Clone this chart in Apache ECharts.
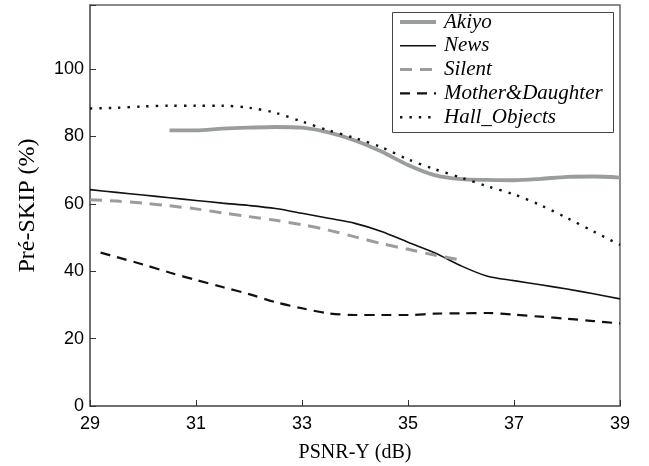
<!DOCTYPE html>
<html>
<head>
<meta charset="utf-8">
<script src="https://cdn.jsdelivr.net/npm/echarts@6/dist/echarts.min.js"></script>
<style>
  html, body { margin: 0; padding: 0; background: #fff; }
  #chart { width: 649px; height: 466px; }
</style>
</head>
<body>
<div id="chart"></div>
<script>
// Pre-SKIP ratio versus luma PSNR for five test sequences
const seriesNames = ['Akiyo', 'News', 'Silent', 'Mother&Daughter', 'Hall_Objects'];

const akiyoX = [30.5, 31.0, 31.5, 32.0, 32.5, 33.0, 33.5, 34.0, 34.5, 35.0, 35.5, 36.0, 36.5, 37.0, 37.5, 38.0, 38.5, 39.0];
const akiyoY = [81.8, 81.8, 82.3, 82.6, 82.8, 82.6, 81.2, 78.8, 75.5, 71.5, 68.5, 67.3, 67.1, 67.0, 67.4, 68.0, 68.1, 67.8];

const newsX = [29.0, 29.5, 30.0, 30.5, 31.0, 31.5, 32.0, 32.5, 33.0, 33.5, 34.0, 34.5, 35.0, 35.5, 36.0, 36.5, 37.0, 37.5, 38.0, 38.5, 39.0];
const newsY = [64.2, 63.4, 62.6, 61.8, 61.0, 60.2, 59.5, 58.6, 57.2, 55.7, 54.2, 51.8, 48.6, 45.5, 41.6, 38.5, 37.2, 36.0, 34.7, 33.3, 31.8];

const silentX = [29.0, 29.5, 30.0, 30.5, 31.0, 31.5, 32.0, 32.5, 33.0, 33.5, 34.0, 34.5, 35.0, 35.5, 36.0];
const silentY = [61.2, 60.8, 60.2, 59.4, 58.5, 57.3, 56.2, 55.1, 53.8, 52.2, 50.2, 48.2, 46.5, 44.8, 43.3];

const motherX = [29.2, 29.5, 30.0, 30.5, 31.0, 31.5, 32.0, 32.5, 33.0, 33.5, 34.0, 34.5, 35.0, 35.5, 36.0, 36.5, 37.0, 37.5, 38.0, 38.5, 39.0];
const motherY = [45.5, 44.2, 42.0, 39.6, 37.4, 35.3, 33.2, 30.8, 29.0, 27.5, 27.0, 27.0, 27.0, 27.4, 27.5, 27.6, 27.1, 26.5, 25.9, 25.2, 24.5];

const hallX = [29.0, 29.5, 30.0, 30.5, 31.0, 31.5, 32.0, 32.5, 33.0, 33.5, 34.0, 34.5, 35.0, 35.5, 36.0, 36.5, 37.0, 37.5, 38.0, 38.5, 39.0];
const hallY = [88.3, 88.5, 88.9, 89.1, 89.1, 89.1, 88.5, 87.0, 84.4, 81.8, 79.5, 76.8, 73.2, 70.3, 67.8, 65.2, 62.8, 59.6, 55.8, 51.8, 47.8];

const xTicks = [29, 31, 33, 35, 37, 39];
const yTicks = [0, 20, 40, 60, 80, 100];

const pairs = (xs, ys) => xs.map((x, i) => [x, ys[i]]);

const frameColor = '#666';
const serif = '"Liberation Serif", "Times New Roman", serif';
const sans = '"Liberation Sans", Arial, sans-serif';

const styles = [
  { color: '#9a9d9d', width: 3.8, type: 'solid' },
  { color: '#111', width: 1.6, type: 'solid' },
  { color: '#9a9d9d', width: 3, type: [12, 8] },
  { color: '#111', width: 2.2, type: [10, 7] },
  { color: '#111', width: 2.4, type: [2.4, 7] }
];
const dataSets = [
  pairs(akiyoX, akiyoY),
  pairs(newsX, newsY),
  pairs(silentX, silentY),
  pairs(motherX, motherY),
  pairs(hallX, hallY)
];

// Boxed key in the upper-right corner: a line sample and an italic name per row
const keyBox = { x: 392.5, y: 12.5, w: 221, h: 120 };
const keyRow0 = 22, keyRowStep = 23.8;
const keyElements = [{
  type: 'rect',
  shape: { x: keyBox.x, y: keyBox.y, width: keyBox.w, height: keyBox.h },
  style: { fill: '#fff', stroke: '#444', lineWidth: 1 },
  z: 50
}];
seriesNames.forEach((name, i) => {
  const y = keyRow0 + i * keyRowStep;
  keyElements.push({
    type: 'line',
    shape: { x1: 400, y1: y, x2: 436, y2: y },
    style: {
      stroke: styles[i].color,
      lineWidth: styles[i].width,
      lineDash: Array.isArray(styles[i].type) ? styles[i].type : null
    },
    z: 51
  });
  keyElements.push({
    type: 'text',
    x: 444, y: y,
    style: {
      text: name, fill: '#000',
      font: 'italic 21px ' + serif,
      verticalAlign: 'middle', align: 'left'
    },
    z: 51
  });
});

const chart = echarts.init(document.getElementById('chart'), null, { renderer: 'canvas' });

chart.setOption({
  animation: false,
  backgroundColor: '#fff',
  grid: {
    left: 90, right: 29, top: 5, bottom: 60,
    outerBoundsMode: 'none',
    containLabel: false,
    show: true, borderColor: frameColor, borderWidth: 1.5, backgroundColor: 'transparent'
  },
  xAxis: {
    type: 'value',
    min: xTicks[0], max: xTicks[xTicks.length - 1], interval: 2,
    name: 'PSNR-Y (dB)', nameLocation: 'middle', nameGap: 37,
    nameTextStyle: { fontFamily: serif, fontSize: 20, color: '#000' },
    axisLine: { show: true, lineStyle: { color: frameColor, width: 1.5 } },
    axisTick: { show: true, inside: true, length: 6, lineStyle: { color: '#333', width: 1 } },
    axisLabel: { fontFamily: sans, fontSize: 18, color: '#000', margin: 9 },
    splitLine: { show: false }
  },
  yAxis: {
    type: 'value',
    min: yTicks[0], max: 119, interval: 20,
    name: 'Pré-SKIP (%)', nameLocation: 'middle', nameGap: 50,
    nameTextStyle: { fontFamily: serif, fontSize: 24, color: '#000' },
    axisLine: { show: true, lineStyle: { color: frameColor, width: 1.5 } },
    axisTick: { show: true, inside: true, length: 6, lineStyle: { color: '#333', width: 1 } },
    axisLabel: {
      fontFamily: sans, fontSize: 18, color: '#000', margin: 6,
      formatter: v => (yTicks.indexOf(v) >= 0 ? String(v) : '')
    },
    splitLine: { show: false }
  },
  graphic: keyElements,
  series: seriesNames.map((name, i) => ({
    name: name,
    type: 'line',
    data: dataSets[i],
    showSymbol: false,
    symbol: 'none',
    smooth: 0.3,
    lineStyle: { color: styles[i].color, width: styles[i].width, type: styles[i].type },
    itemStyle: { color: styles[i].color },
    z: 2
  }))
});
</script>
</body>
</html>
